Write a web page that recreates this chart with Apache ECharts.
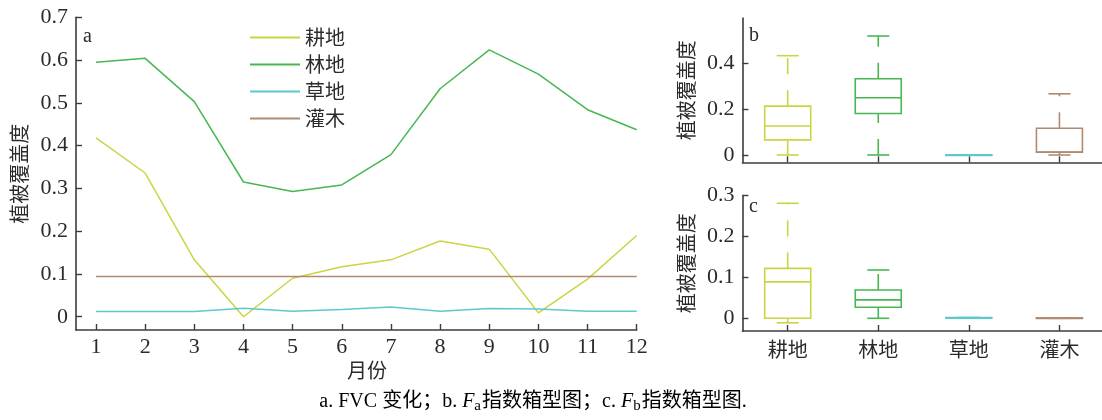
<!DOCTYPE html>
<html>
<head>
<meta charset="utf-8">
<script src="https://cdn.jsdelivr.net/npm/echarts@6/dist/echarts.min.js"></script>
<style>
  html, body { margin: 0; padding: 0; background: #fff; }
  #chart { width: 1102px; height: 420px; }
</style>
</head>
<body>
<div id="chart"></div>
<script>
// Monthly FVC per land-cover type
const months = [1, 2, 3, 4, 5, 6, 7, 8, 9, 10, 11, 12];
const landTypes = ['耕地', '林地', '草地', '灌木'];
const fvcCropland = [0.418, 0.336, 0.133, 0.000, 0.090, 0.117, 0.133, 0.177, 0.158, 0.009, 0.088, 0.190];
const fvcForest   = [0.595, 0.604, 0.503, 0.315, 0.293, 0.308, 0.379, 0.533, 0.624, 0.567, 0.484, 0.437];
const fvcGrass    = [0.012, 0.012, 0.012, 0.020, 0.013, 0.017, 0.023, 0.013, 0.019, 0.018, 0.013, 0.013];
const fvcShrub    = [0.094, 0.094, 0.094, 0.094, 0.094, 0.094, 0.094, 0.094, 0.094, 0.094, 0.094, 0.094];

// Box statistics: [min, Q1, median, Q3, max]
const faCropland = [0.000, 0.066, 0.127, 0.214, 0.435];
const faForest   = [0.000, 0.182, 0.251, 0.334, 0.521];
const faGrass    = [0.000, 0.000, 0.000, 0.001, 0.001];
const faShrub    = [0.000, 0.012, 0.013, 0.117, 0.268];

const fbCropland = [-0.011, 0.000, 0.089, 0.122, 0.281];
const fbForest   = [0.000, 0.027, 0.045, 0.069, 0.118];
const fbGrass    = [0.000, 0.000, 0.001, 0.002, 0.002];
const fbShrub    = [0.000, 0.000, 0.000, 0.001, 0.001];

// Tick values
const fvcTicks = [0, 0.1, 0.2, 0.3, 0.4, 0.5, 0.6, 0.7];
const faTicks = [0, 0.2, 0.4];
const fbTicks = [0, 0.1, 0.2, 0.3];
const boxPositions = [1, 2, 3, 4];

const colors = ['#cbd443', '#47b752', '#5fc8cb', '#b08b73'];
const axisColor = '#3c3c3c';
const textColor = '#2b2b2b';
const serif = '"Liberation Serif", "Noto Sans CJK SC", serif';
const cjk = '"Noto Sans CJK SC", "Liberation Serif", sans-serif';
const tickFont = 22;

const fmtNum = v => (Math.abs(v) < 1e-9 ? '0' : v.toFixed(1));

function valueYAxis(gridIndex, min, max, ticks) {
  return {
    type: 'value', gridIndex, min, max,
    name: '植被覆盖度',
    nameLocation: 'middle', nameGap: 46, nameRotate: 90,
    nameTextStyle: { fontFamily: cjk, fontSize: 20, color: textColor },
    axisLine: { show: true, onZero: false, lineStyle: { color: axisColor, width: 1.6 } },
    axisTick: { show: true, inside: true, length: 6, customValues: ticks, lineStyle: { color: axisColor, width: 1.4 } },
    axisLabel: { customValues: ticks, formatter: fmtNum, margin: 8, fontFamily: serif, fontSize: tickFont, color: textColor },
    splitLine: { show: false }
  };
}

function boxXAxis(gridIndex, showLabels) {
  return {
    type: 'value', gridIndex, min: 0.5, max: 4.47,
    axisLine: { show: true, onZero: false, lineStyle: { color: axisColor, width: 1.6 } },
    axisTick: { show: true, inside: true, length: 6, customValues: boxPositions, lineStyle: { color: axisColor, width: 1.4 } },
    axisLabel: {
      show: showLabels, customValues: boxPositions, margin: 8,
      formatter: v => landTypes[Math.round(v) - 1] || '',
      fontFamily: cjk, fontSize: 20, color: textColor
    },
    splitLine: { show: false }
  };
}

// Box with solid outline and caps, dashed whiskers
function renderBox(params, api) {
  const x = api.value(0);
  const ys = [1, 2, 3, 4, 5].map(i => api.coord([x, api.value(i)])[1]);
  const cx = api.coord([x, 0])[0];
  const [yMin, yQ1, yMed, yQ3, yMax] = ys;
  const color = colors[params.dataIndex];
  const half = 23, capHalf = 11, lw = 1.6;
  const solid = { stroke: color, lineWidth: lw, fill: null };
  const dashed = { stroke: color, lineWidth: lw, lineDash: [16, 16], fill: null };
  return {
    type: 'group',
    children: [
      { type: 'line', shape: { x1: cx, y1: yMin, x2: cx, y2: yQ1 }, style: dashed },
      { type: 'line', shape: { x1: cx, y1: yQ3, x2: cx, y2: yMax }, style: dashed },
      { type: 'line', shape: { x1: cx - capHalf, y1: yMin, x2: cx + capHalf, y2: yMin }, style: solid },
      { type: 'line', shape: { x1: cx - capHalf, y1: yMax, x2: cx + capHalf, y2: yMax }, style: solid },
      { type: 'rect', shape: { x: cx - half, y: yQ3, width: half * 2, height: Math.max(yQ1 - yQ3, 0.6) },
        style: { stroke: color, lineWidth: lw, fill: '#fff' } },
      { type: 'line', shape: { x1: cx - half, y1: yMed, x2: cx + half, y2: yMed }, style: solid }
    ]
  };
}

const boxRow = (stats, i) => [boxPositions[i]].concat(stats);

const lineSeries = (name, data, color) => ({
  name, type: 'line', xAxisIndex: 0, yAxisIndex: 0,
  data: months.map((m, i) => [m, data[i]]),
  showSymbol: false, symbol: 'none',
  lineStyle: { color, width: 1.5 }, itemStyle: { color },
  animation: false
});

const chart = echarts.init(document.getElementById('chart'), null, { renderer: 'canvas' });
chart.setOption({
  animation: false,
  backgroundColor: '#fff',
  grid: [
    { left: 76, top: 17.3, width: 560.7, height: 312.7 },
    { left: 742.4, top: 18, width: 359.6, height: 144.3 },
    { left: 742.4, top: 195.5, width: 359.6, height: 135.5 }
  ],
  xAxis: [
    {
      type: 'value', gridIndex: 0, min: 0.593, max: 12,
      axisLine: { show: true, onZero: false, lineStyle: { color: axisColor, width: 1.6 } },
      axisTick: { show: true, inside: true, length: 6, customValues: months, lineStyle: { color: axisColor, width: 1.4 } },
      axisLabel: { customValues: months, margin: 6, fontFamily: serif, fontSize: tickFont, color: textColor },
      splitLine: { show: false }
    },
    boxXAxis(1, false),
    boxXAxis(2, true)
  ],
  yAxis: [
    valueYAxis(0, -0.031, 0.7, fvcTicks),
    valueYAxis(1, -0.032, 0.6, faTicks),
    valueYAxis(2, -0.031, 0.3, fbTicks)
  ],
  legend: {
    orient: 'vertical', left: 250, top: 27.5, padding: 0,
    icon: 'rect', itemWidth: 50, itemHeight: 2, itemGap: 7,
    textStyle: { fontFamily: cjk, fontSize: 20, lineHeight: 19, color: textColor },
    data: landTypes
  },
  series: [
    lineSeries(landTypes[0], fvcCropland, colors[0]),
    lineSeries(landTypes[1], fvcForest, colors[1]),
    lineSeries(landTypes[2], fvcGrass, colors[2]),
    lineSeries(landTypes[3], fvcShrub, colors[3]),
    {
      type: 'custom', xAxisIndex: 1, yAxisIndex: 1, renderItem: renderBox,
      encode: { x: 0, y: [1, 2, 3, 4, 5] },
      data: [faCropland, faForest, faGrass, faShrub].map(boxRow)
    },
    {
      type: 'custom', xAxisIndex: 2, yAxisIndex: 2, renderItem: renderBox,
      encode: { x: 0, y: [1, 2, 3, 4, 5] },
      data: [fbCropland, fbForest, fbGrass, fbShrub].map(boxRow)
    }
  ],
  graphic: [
    { type: 'text', left: 83, top: 27, style: { text: 'a', font: '20px ' + serif, fill: textColor } },
    { type: 'text', left: 749, top: 26, style: { text: 'b', font: '20px ' + serif, fill: textColor } },
    { type: 'text', left: 749, top: 197, style: { text: 'c', font: '20px ' + serif, fill: textColor } },
    { type: 'text', x: 367, y: 370, style: { text: '月份', font: '20px ' + cjk, fill: textColor, align: 'center', verticalAlign: 'middle' } },
    {
      type: 'text', x: 533, y: 402,
      style: {
        text: '{t|a. FVC 变化；b. }{f|F}{s|a}{t|指数箱型图；c. }{f|F}{s|b}{t|指数箱型图.}',
        align: 'center', verticalAlign: 'middle',
        rich: {
          t: { fontFamily: serif, fontSize: 20, color: textColor },
          f: { fontFamily: serif, fontSize: 20, fontStyle: 'italic', color: textColor },
          s: { fontFamily: serif, fontSize: 15, color: textColor, padding: [9, 1, 0, 0] }
        }
      }
    }
  ]
});
</script>
</body>
</html>
